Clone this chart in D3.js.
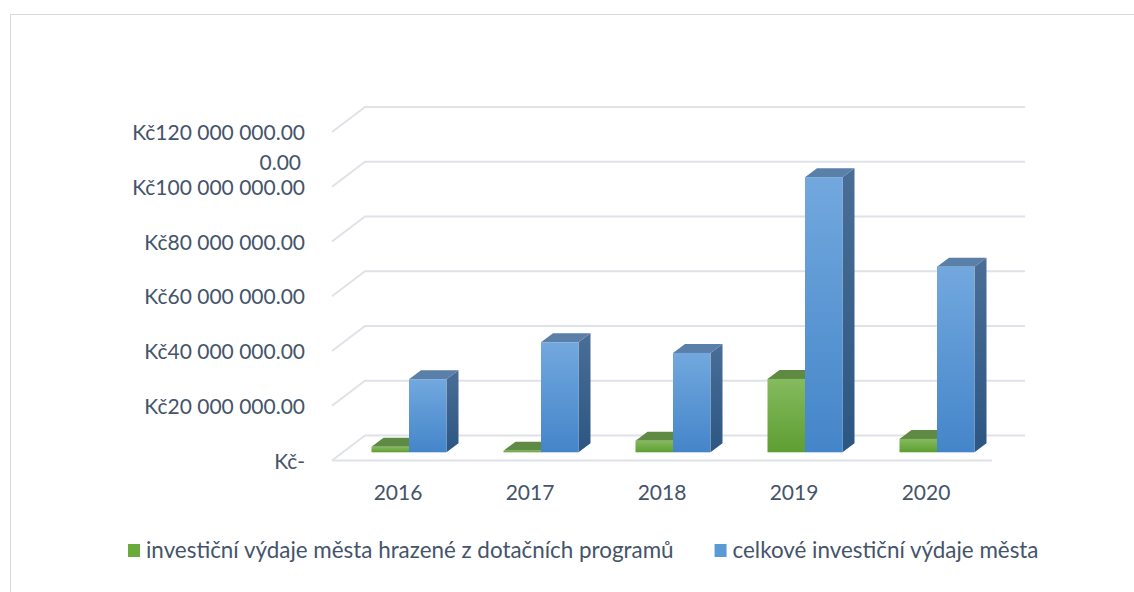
<!DOCTYPE html>
<html>
<head>
<meta charset="utf-8">
<script src="https://cdn.jsdelivr.net/npm/d3@7"></script>
<style>
  html, body { margin: 0; padding: 0; background: #fff; }
  svg { display: block; }
  text { font-family: Lato, "Open Sans", sans-serif; fill: #44546A; }
</style>
</head>
<body>
<svg id="chart" width="1134" height="592"></svg>
<script>
// ---- data ----
const categories = ["2016", "2017", "2018", "2019", "2020"];
const seriesNames = [
  "investiční výdaje města hrazené z dotačních programů",
  "celkové investiční výdaje města"
];
const grantFunded = [2.0e6, 0.6e6, 4.2e6, 26.8e6, 4.9e6];
const totalInvest = [26.7e6, 40.2e6, 36.3e6, 100.5e6, 67.8e6];
const yTickValues = [0, 20e6, 40e6, 60e6, 80e6, 100e6, 120e6];
const yTickLabels = ["Kč-", "Kč20 000 000.00", "Kč40 000 000.00", "Kč60 000 000.00",
                     "Kč80 000 000.00", "0.00\nKč100 000 000.00", "Kč120 000 000.00"];

// ---- setup ----
const svg = d3.select("#chart");
const W = 1134, H = 592;

// outer border
svg.append("rect").attr("x", 10.5).attr("y", 14.5).attr("width", W + 20).attr("height", H + 20)
  .attr("fill", "none").attr("stroke", "#d9d9d9").attr("stroke-width", 1);

// scales (front plane of the floor)
const x = d3.scaleBand().domain(categories).range([332, 992]);
const y = d3.scaleLinear().domain([0, 120e6]).range([460.5, 132]);
const wallDepth = { dx: 33, dy: -25 };     // front plane -> back wall
const barPlane = { dx: 11, dy: -8.2 };     // front plane -> bar front faces
const barDepth = { dx: 12, dy: -9 };       // bar thickness in depth
const groupW = 75;
const sub = d3.scaleBand().domain([0, 1])
  .range([(x.bandwidth() - groupW) / 2, (x.bandwidth() + groupW) / 2]);

const defs = svg.append("defs");
function grad(id, c1, c2, horizontal) {
  const g = defs.append("linearGradient").attr("id", id)
    .attr("x1", 0).attr("y1", 0).attr("x2", horizontal ? 1 : 0).attr("y2", horizontal ? 0 : 1);
  g.append("stop").attr("offset", "0%").attr("stop-color", c1);
  g.append("stop").attr("offset", "100%").attr("stop-color", c2);
}
grad("gFront", "#84bb5e", "#5e9e32");
grad("gSide", "#4f7a35", "#3f6a26");
grad("bFront", "#72a8de", "#4485c9");
grad("bSide", "#4a6e96", "#2c5682");

const colors = [
  { front: "url(#gFront)", side: "url(#gSide)", top: "#5f8a43", legend: "#6aab3c" },
  { front: "url(#bFront)", side: "url(#bSide)", top: "#5a7fa9", legend: "#5b9bd5" }
];

// ---- gridlines: back wall + left wall ----
const grid = svg.append("g").attr("stroke", "#dfe2e7").attr("stroke-width", 2).attr("fill", "none");
const xL = x.range()[0], xR = x.range()[1];
yTickValues.forEach(v => {
  const yf = y(v);
  grid.append("path")
    .attr("d", `M${xL},${yf} L${xL + wallDepth.dx},${yf + wallDepth.dy} L${xR + wallDepth.dx},${yf + wallDepth.dy}`);
});
// floor front edge
grid.append("line").attr("x1", xL).attr("x2", xR).attr("y1", y(0)).attr("y2", y(0));

// ---- bars ----
const seriesData = [grantFunded, totalInvest];
const barsG = svg.append("g");
categories.forEach((cat, i) => {
  [0, 1].forEach(s => {
    const v = seriesData[s][i];
    const x0 = x(cat) + sub(s) + barPlane.dx;
    const x1 = x0 + sub.bandwidth();
    const yb = y(0) + barPlane.dy;
    const yt = y(v) + barPlane.dy;
    const c = colors[s];
    const dx = barDepth.dx, dy = barDepth.dy;
    // side
    barsG.append("path")
      .attr("d", `M${x1},${yt} L${x1 + dx},${yt + dy} L${x1 + dx},${yb + dy} L${x1},${yb} Z`)
      .attr("fill", c.side);
    // top
    barsG.append("path")
      .attr("d", `M${x0},${yt} L${x0 + dx},${yt + dy} L${x1 + dx},${yt + dy} L${x1},${yt} Z`)
      .attr("fill", c.top);
    // front
    barsG.append("rect")
      .attr("x", x0).attr("y", yt).attr("width", x1 - x0).attr("height", Math.max(0.8, yb - yt))
      .attr("fill", c.front);
  });
});

// ---- y axis labels ----
const yAxis = d3.axisLeft(y).tickValues(yTickValues).tickSize(0).tickPadding(27)
  .tickFormat((d, i) => yTickLabels[i]);
const yg = svg.append("g").attr("transform", `translate(${xL},1)`).call(yAxis);
yg.select(".domain").remove();
yg.selectAll(".tick text")
  .attr("font-size", 21).attr("font-family", null).attr("fill", "#44546A")
  .each(function (d, i) {
    const lines = yTickLabels[i].split("\n");
    if (lines.length > 1) {
      const t = d3.select(this);
      t.text(lines[lines.length - 1]);
      d3.select(this.parentNode).append("text")
        .attr("x", -31).attr("dy", "-0.86em").attr("text-anchor", "end")
        .attr("font-size", 21).attr("fill", "#44546A")
        .text(lines[0]);
    }
  });

// ---- x axis labels ----
const xAxis = d3.axisBottom(x).tickSize(0).tickPadding(5);
const xg = svg.append("g").attr("transform", `translate(0,${y(0) + 20})`).call(xAxis);
xg.select(".domain").remove();
xg.selectAll(".tick text").attr("font-size", 21).attr("font-family", null).attr("fill", "#44546A");

// ---- legend ----
const lg = svg.append("g").attr("transform", "translate(128,550)");
let lx = 0;
seriesNames.forEach((name, s) => {
  lg.append("rect").attr("x", lx).attr("y", -6).attr("width", 12).attr("height", 13)
    .attr("fill", colors[s].legend);
  const t = lg.append("text").attr("x", lx + 18).attr("y", 0).attr("dy", "0.35em")
    .attr("font-size", 22.4).text(name);
  lx += 18 + t.node().getComputedTextLength() + 41;
});
</script>
</body>
</html>
